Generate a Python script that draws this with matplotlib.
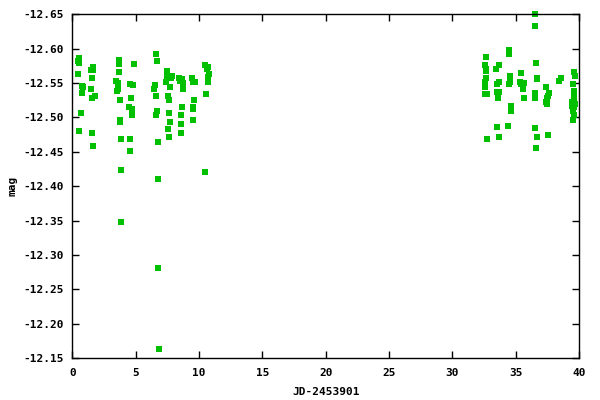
import matplotlib
matplotlib.use("Agg")
import matplotlib.pyplot as plt

# JD-2453901 and magnitude
jd = [0.47, 0.55, 0.55, 0.47, 0.78, 0.86, 0.78, 0.68, 0.55,
      1.47, 1.65, 1.65, 1.57, 1.47, 1.57, 1.81, 1.57, 1.65,
      3.71, 3.71, 3.71, 3.47, 3.63, 3.55, 3.63, 3.79, 3.79, 3.79, 3.86, 3.86, 3.86,
      4.87, 4.50, 4.58, 4.76, 4.66, 4.73, 4.73, 4.58, 4.58,
      6.63, 6.71, 6.55, 6.47, 6.63, 6.71, 6.63, 6.79, 6.79, 6.79, 6.86,
      7.50, 7.50, 7.84, 7.76, 7.39, 7.73, 7.58, 7.65, 7.65, 7.73, 7.58, 7.65,
      8.44, 8.52, 8.68, 8.76, 8.76, 8.68, 8.60, 8.60, 8.60,
      9.47, 9.55, 9.66, 9.63, 9.55, 9.55, 9.55,
      10.50, 10.73, 10.65, 10.81, 10.73, 10.73, 10.58, 10.50,
      32.62, 32.54, 32.62, 32.62, 32.62, 32.54, 32.54, 32.54, 32.54, 32.77, 32.77,
      33.41, 33.72, 33.49, 33.72, 33.49, 33.72, 33.57, 33.49, 33.65,
      34.51, 34.51, 34.59, 34.59, 34.51, 34.67, 34.67, 34.43,
      35.46, 35.38, 35.62, 35.46, 35.54, 35.62,
      36.49, 36.49, 36.64, 36.72, 36.72, 36.49, 36.56, 36.56, 36.72, 36.64,
      37.43, 37.67, 37.59, 37.51, 37.43, 37.51, 37.59,
      38.46, 38.54,
      39.64, 39.72, 39.49, 39.64, 39.57, 39.57, 39.41, 39.72, 39.41, 39.57, 39.49, 39.57, 39.49]
mag = [-12.582, -12.587, -12.580, -12.563, -12.546, -12.545, -12.535, -12.506, -12.481,
       -12.569, -12.574, -12.569, -12.557, -12.541, -12.528, -12.531, -12.478, -12.458,
       -12.583, -12.578, -12.566, -12.553, -12.550, -12.538, -12.541, -12.526, -12.496, -12.493, -12.468, -12.424, -12.348,
       -12.578, -12.515, -12.548, -12.547, -12.528, -12.512, -12.503, -12.468, -12.451,
       -12.593, -12.582, -12.547, -12.541, -12.531, -12.510, -12.504, -12.465, -12.410, -12.281, -12.163,
       -12.567, -12.561, -12.561, -12.557, -12.551, -12.545, -12.531, -12.525, -12.506, -12.494, -12.483, -12.472,
       -12.558, -12.553, -12.556, -12.550, -12.541, -12.515, -12.503, -12.491, -12.477,
       -12.557, -12.551, -12.551, -12.526, -12.515, -12.512, -12.497,
       -12.577, -12.574, -12.570, -12.563, -12.559, -12.551, -12.534, -12.420,
       -12.588, -12.577, -12.570, -12.568, -12.558, -12.551, -12.547, -12.544, -12.534, -12.534, -12.468,
       -12.570, -12.576, -12.548, -12.551, -12.537, -12.537, -12.528, -12.486, -12.471,
       -12.598, -12.593, -12.560, -12.551, -12.548, -12.516, -12.510, -12.487,
       -12.564, -12.551, -12.550, -12.548, -12.542, -12.528,
       -12.650, -12.633, -12.580, -12.558, -12.556, -12.535, -12.529, -12.484, -12.471, -12.455,
       -12.544, -12.535, -12.531, -12.528, -12.522, -12.520, -12.474,
       -12.553, -12.557,
       -12.566, -12.561, -12.548, -12.538, -12.532, -12.529, -12.522, -12.520, -12.517, -12.515, -12.509, -12.503, -12.497]

xticks = [0, 5, 10, 15, 20, 25, 30, 35, 40]
yticks = [-12.65, -12.60, -12.55, -12.50, -12.45, -12.40, -12.35, -12.30, -12.25, -12.20, -12.15]

plt.rcParams['font.family'] = ['DejaVu Sans Mono']
fig = plt.figure(figsize=(6, 4), dpi=100)
ax = fig.add_axes([0.1205, 0.105, 0.8445, 0.859])
ax.plot(jd, mag, linestyle='none', marker='s', markersize=4.3,
        color='#00c000', markeredgewidth=0, clip_on=False)
ax.set_xlim(0, 40)
ax.set_ylim(-12.15, -12.65)
ax.set_xticks(xticks)
ax.set_xticklabels([str(t) for t in xticks])
ax.set_yticks(yticks)
ax.set_yticklabels(['%.2f' % t for t in yticks])
ax.tick_params(direction='in', length=5, width=1, top=True, right=True,
               labelsize=8, pad=6)
ax.tick_params(axis='x', pad=7)
for lab in ax.get_xticklabels() + ax.get_yticklabels():
    lab.set_fontweight('bold')
for s in ax.spines.values():
    s.set_linewidth(1)
ax.set_xlabel('JD-2453901', fontsize=8, fontweight='bold', labelpad=7)
ax.set_ylabel('mag', fontsize=8, fontweight='bold', labelpad=4)
fig.savefig('out.png', dpi=100)
